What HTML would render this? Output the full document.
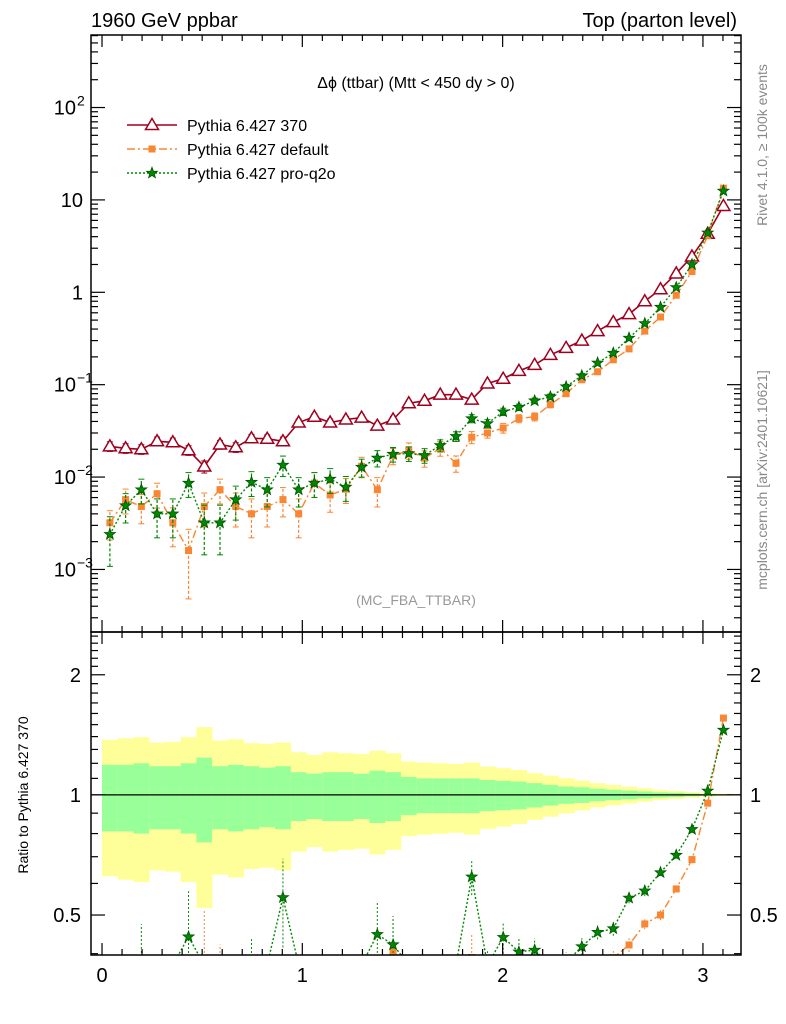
<!DOCTYPE html>
<html><head><meta charset="utf-8"><style>
html,body{margin:0;padding:0;background:#fff;overflow:hidden;width:786px;height:1024px;}
svg{display:block;font-family:"Liberation Sans",sans-serif;}
</style></head><body>
<svg id="chart" width="786" height="1024" viewBox="0 0 786 1024">
<text x="91" y="27" font-size="20">1960 GeV ppbar</text>
<text x="737" y="27" font-size="20" text-anchor="end">Top (parton level)</text>
<text x="416" y="88" font-size="16" text-anchor="middle">Δϕ (ttbar) (Mtt &lt; 450 dy &gt; 0)</text>
<text x="416" y="605" font-size="14" fill="#999" text-anchor="middle">(MC_FBA_TTBAR)</text>
<text transform="translate(767,145) rotate(-90)" font-size="14" fill="#888" text-anchor="middle">Rivet 4.1.0, ≥ 100k events</text>
<text transform="translate(767,480) rotate(-90)" font-size="14" fill="#888" text-anchor="middle">mcplots.cern.ch [arXiv:2401.10621]</text>
<text transform="translate(28,795) rotate(-90)" font-size="14" text-anchor="middle">Ratio to Pythia 6.427 370</text>
<g id="band"></g><g id="main"></g><g id="ratio"></g><g id="axes"></g><g id="legend"></g>
</svg>
<script>
const redVals=[0.0215,0.0205,0.020,0.0244,0.0238,0.0195,0.013,0.0225,0.021,0.0263,0.026,0.0244,0.039,0.045,0.039,0.042,0.044,0.036,0.042,0.063,0.067,0.078,0.078,0.069,0.103,0.116,0.141,0.164,0.21,0.25,0.30,0.38,0.476,0.58,0.8,1.08,1.6,2.44,4.3,8.6];
const orangeVals=[0.0032,0.0057,0.0048,0.0066,0.0032,0.0016,0.0048,0.0073,0.0048,0.004,0.0048,0.0057,0.004,0.0086,0.0064,0.0074,0.0131,0.0073,0.017,0.0195,0.016,0.0205,0.0141,0.027,0.030,0.034,0.043,0.045,0.061,0.080,0.113,0.138,0.186,0.244,0.38,0.54,0.93,1.68,4.1,13.4];
const greenVals=[0.0024,0.0049,0.0073,0.004,0.004,0.0086,0.0032,0.0032,0.0057,0.0088,0.0073,0.0135,0.0073,0.0086,0.0095,0.0078,0.0128,0.0161,0.0177,0.018,0.0172,0.022,0.0276,0.043,0.038,0.051,0.057,0.067,0.074,0.095,0.125,0.172,0.22,0.32,0.46,0.69,1.13,2.0,4.4,12.5];
const orangeErr=[0.35,0.3,0.35,0.3,0.45,0.7,0.4,0.3,0.4,0.45,0.4,0.35,0.45,0.3,0.35,0.3,0.25,0.35,0.2,0.2,0.2,0.18,0.2,0.15,0.12,0.12,0.1,0.1,0.08,0.07,0.06,0.05,0.04,0.04,0.03,0.03,0.02,0.02,0.01,0.01];
const greenErr=[0.55,0.35,0.3,0.45,0.45,0.3,0.55,0.55,0.4,0.3,0.35,0.25,0.35,0.3,0.3,0.3,0.22,0.2,0.18,0.18,0.18,0.15,0.12,0.1,0.1,0.09,0.08,0.07,0.07,0.06,0.05,0.04,0.04,0.03,0.03,0.02,0.02,0.02,0.01,0.01];
const redErr=[0.12,0.12,0.12,0.11,0.11,0.12,0.15,0.11,0.12,0.1,0.1,0.11,0.09,0.08,0.09,0.08,0.08,0.09,0.08,0.07,0.07,0.06,0.06,0.07,0.05,0.05,0.05,0.04,0.04,0.04,0.03,0.03,0.03,0.03,0.02,0.02,0.02,0.01,0.01,0.01];
const bandTotal=[0.374,0.387,0.395,0.353,0.358,0.395,0.479,0.369,0.379,0.348,0.343,0.353,0.279,0.26,0.279,0.272,0.267,0.291,0.272,0.212,0.205,0.201,0.196,0.205,0.178,0.167,0.155,0.134,0.118,0.101,0.086,0.07,0.059,0.049,0.039,0.029,0.023,0.016,0.01,0.006];
const bandStat=[0.19,0.19,0.2,0.18,0.18,0.2,0.24,0.18,0.19,0.18,0.17,0.18,0.14,0.13,0.14,0.14,0.13,0.15,0.14,0.11,0.1,0.1,0.1,0.1,0.09,0.085,0.08,0.07,0.06,0.05,0.045,0.036,0.03,0.025,0.02,0.015,0.012,0.008,0.005,0.003];
const xTicks=[0,1,2,3];
const ratioTicks=[0.5,1,2];

const NS="http://www.w3.org/2000/svg";
const L=91,R=741,T=35,M=632,B=955;
const X0=-0.055,X1=3.19;
const LOGMIN=-3.677,LOGMAX=2.785;
const RMIN=Math.log2(0.397),RMAX=Math.log2(2.56);
const sx=v=>L+(v-X0)/(X1-X0)*(R-L);
const sy=v=>M-(Math.log10(v)-LOGMIN)/(LOGMAX-LOGMIN)*(M-T);
const srRaw=v=>B-(Math.log2(Math.max(v,1e-6))-RMIN)/(RMAX-RMIN)*(B-M);
const sr=v=>Math.min(B+10,Math.max(M-10,srRaw(v)));
const N=redVals.length,W=Math.PI/N;
const cx=i=>(i+0.5)*W;
function el(t,a,p){const e=document.createElementNS(NS,t);for(const k in a)e.setAttribute(k,a[k]);p.appendChild(e);return e;}
const gMain=document.getElementById('main'),gRatio=document.getElementById('ratio'),gAx=document.getElementById('axes'),gBand=document.getElementById('band'),gLeg=document.getElementById('legend');
const defs=el('defs',{},document.getElementById('chart'));
const c1=el('clipPath',{id:'cm'},defs);el('rect',{x:L,y:T,width:R-L,height:M-T},c1);
const c2=el('clipPath',{id:'cr'},defs);el('rect',{x:L,y:M,width:R-L,height:B-M},c2);
gMain.setAttribute('clip-path','url(#cm)');gRatio.setAttribute('clip-path','url(#cr)');gBand.setAttribute('clip-path','url(#cr)');

for(let i=0;i<N;i++){
 const x0=sx(i*W),x1=sx((i+1)*W);
 const y=el('rect',{x:x0,y:sr(1+bandTotal[i]),width:x1-x0+0.3,height:sr(1-bandTotal[i])-sr(1+bandTotal[i]),fill:'#ffff99'},gBand);
 
 
 const g=el('rect',{x:x0,y:sr(1+bandStat[i]),width:x1-x0+0.3,height:sr(1-bandStat[i])-sr(1+bandStat[i]),fill:'#99ff99'},gBand);
 
 
}
el('line',{x1:L,x2:R,y1:sr(1),y2:sr(1),stroke:'#000','stroke-width':1.2},gBand);

function marker(type,x,y,color,p){
 let m;
 if(type==='tri'){m=el('path',{d:`M${x},${y-6.5}L${x+6.5},${y+4.5}L${x-6.5},${y+4.5}Z`,fill:'#fff',stroke:color,'stroke-width':1.5},p);}
 else if(type==='sq'){m=el('rect',{x:x-3.5,y:y-3.5,width:7,height:7,fill:color},p);}
 else{let d='';for(let k=0;k<10;k++){const r=k%2?2.4:5.8,a=-Math.PI/2+k*Math.PI/5;d+=(k?'L':'M')+(x+r*Math.cos(a)).toFixed(1)+','+(y+r*Math.sin(a)).toFixed(1);}m=el('path',{d:d+'Z',fill:'#008800',stroke:'#005500','stroke-width':0.8},p);}
 return m;
}
const series=[
 {name:'pythia-370',vals:redVals,err:redErr,color:'#a0001e',dash:'',type:'tri',w:1.6},
 {name:'pythia-default',vals:orangeVals,err:orangeErr,color:'#f88632',dash:'8,3,2,3',type:'sq',w:1.4},
 {name:'pythia-pro-q2o',vals:greenVals,err:greenErr,color:'#008800',dash:'2,2',type:'star',w:1.4}
];
series.forEach(s=>{
 let d='';s.vals.forEach((v,i)=>{d+=(i?'L':'M')+sx(cx(i)).toFixed(1)+','+sy(v).toFixed(1);});
 const ln=el('path',{d,fill:'none',stroke:s.color,'stroke-width':s.w,'stroke-dasharray':s.dash},gMain);
 
 
 s.vals.forEach((v,i)=>{
  const x=sx(cx(i)),lo=sy(v*(1-s.err[i])),hi=sy(v*(1+s.err[i]));
  el('line',{x1:x,x2:x,y1:lo,y2:hi,stroke:s.color,'stroke-width':1.2,'stroke-dasharray':s.dash?'3,2':''},gMain);
  el('line',{x1:x-3,x2:x+3,y1:lo,y2:lo,stroke:s.color},gMain);el('line',{x1:x-3,x2:x+3,y1:hi,y2:hi,stroke:s.color},gMain);
  const m=marker(s.type,x,sy(v),s.color,gMain);
  
  
 });
 if(s.type!=='tri'){
  let rd='';s.vals.forEach((v,i)=>{rd+=(i?'L':'M')+sx(cx(i)).toFixed(1)+','+sr(v/redVals[i]).toFixed(1);});
  const rl=el('path',{d:rd,fill:'none',stroke:s.color,'stroke-width':s.w,'stroke-dasharray':s.dash},gRatio);
  
  
  s.vals.forEach((v,i)=>{
   const r=v/redVals[i],x=sx(cx(i));
   el('line',{x1:x,x2:x,y1:sr(r*(1-s.err[i])),y2:sr(r*(1+s.err[i])),stroke:s.color,'stroke-dasharray':'2,2'},gRatio);
   if(srRaw(r)>B+8||srRaw(r)<M-8)return;
   const m=marker(s.type,x,sr(r),s.color,gRatio);
   
   
  });
 }
});

[[T,M],[M,B]].forEach(([a,b])=>{el('rect',{x:L,y:a,width:R-L,height:b-a,fill:'none',stroke:'#000','stroke-width':1.5},gAx);});
for(let v=0;v<=3.15;v+=0.1){
 const x=sx(v),maj=Math.abs(v-Math.round(v))<1e-6,len=maj?12:6;
 [[B,-1],[M,1],[M,-1],[T,1]].forEach(([y,dir])=>el('line',{x1:x,x2:x,y1:y,y2:y+dir*len,stroke:'#000','stroke-width':1.2},gAx));
}
xTicks.forEach(v=>{const t=el('text',{x:sx(v),y:982,'font-size':20,'text-anchor':'middle'},gAx);t.textContent=v;
 
 });
for(let e=-4;e<=2;e++){for(let k=1;k<10;k++){const v=k*Math.pow(10,e),lv=Math.log10(v);if(lv<LOGMIN||lv>LOGMAX)continue;const y=sy(v),len=k===1?14:7;
 el('line',{x1:L,x2:L+len,y1:y,y2:y,stroke:'#000','stroke-width':1.2},gAx);el('line',{x1:R,x2:R-len,y1:y,y2:y,stroke:'#000','stroke-width':1.2},gAx);}}
const ylab=[[-3,'10','−3'],[-2,'10','−2'],[-1,'10','−1'],[0,'1',''],[1,'10',''],[2,'10','2']];
ylab.forEach(([e,b,s])=>{const t=el('text',{x:s?76:83,y:sy(Math.pow(10,e))+7,'font-size':20,'text-anchor':'end'},gAx);t.textContent=b;
 
 
 if(s){const u=el('text',{x:77,y:sy(Math.pow(10,e))-2,'font-size':14},gAx);u.textContent=s;}});
for(let v=0.4;v<=2.56;v+=0.1){const y=srRaw(v);if(y<M||y>B)continue;const maj=ratioTicks.some(t=>Math.abs(t-v)<1e-6),len=maj?14:7;
 el('line',{x1:L,x2:L+len,y1:y,y2:y,stroke:'#000','stroke-width':1.2},gAx);el('line',{x1:R,x2:R-len,y1:y,y2:y,stroke:'#000','stroke-width':1.2},gAx);}
ratioTicks.forEach(v=>{[[81,'end'],[750,'start']].forEach(([x,a])=>{const t=el('text',{x,y:sr(v)+7,'font-size':20,'text-anchor':a},gAx);t.textContent=v;
 
 });});
const legNames=['Pythia 6.427 370','Pythia 6.427 default','Pythia 6.427 pro-q2o'];
series.forEach((s,i)=>{const y=125+i*24;
 const g=el('g',{},gLeg);
 
 
 el('line',{x1:127,x2:177,y1:y,y2:y,stroke:s.color,'stroke-width':s.w,'stroke-dasharray':s.dash},g);
 marker(s.type,152,y,s.color,g);
 const t=el('text',{x:187,y:y+6,'font-size':16},g);t.textContent=legNames[i];});
</script>
</body></html>
